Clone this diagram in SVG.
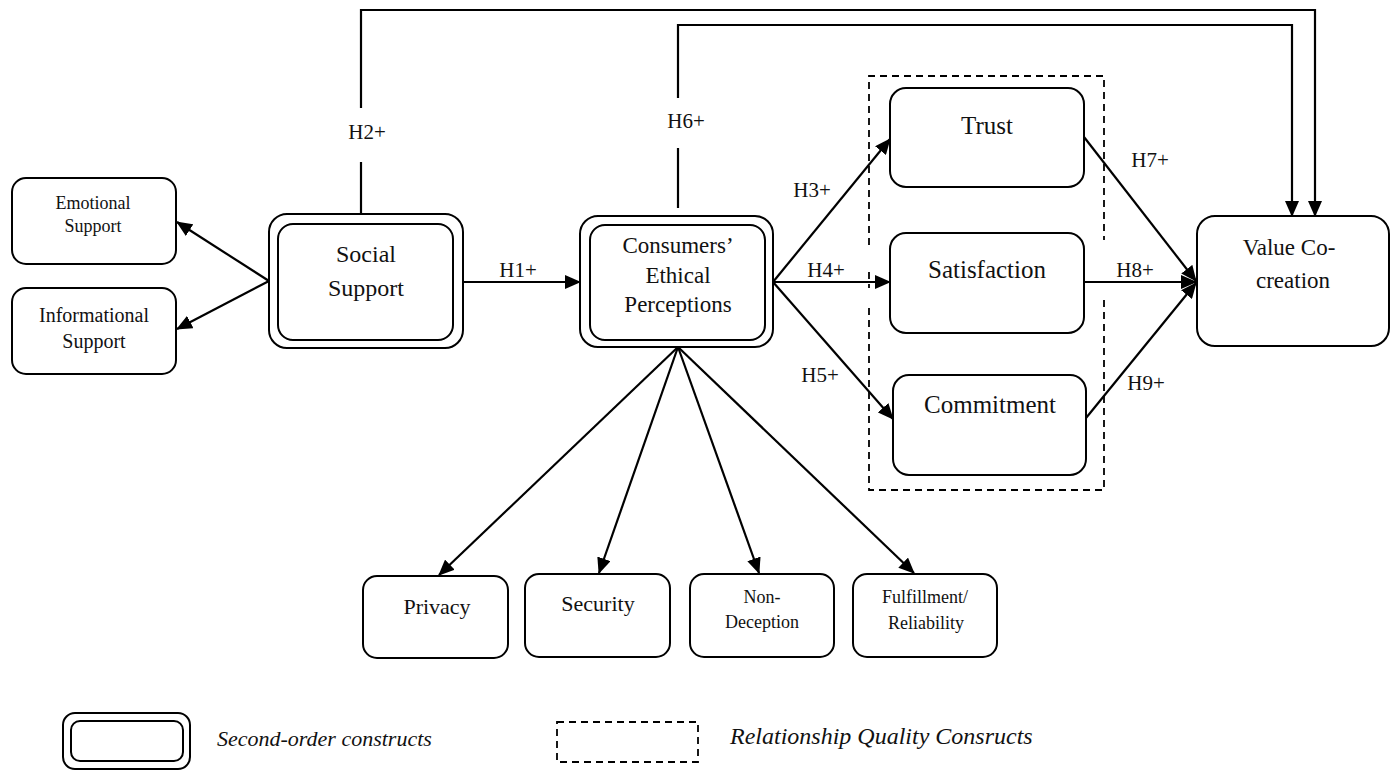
<svg xmlns="http://www.w3.org/2000/svg" width="1394" height="770" viewBox="0 0 1394 770" font-family="'Liberation Serif','Times New Roman',serif">
<defs>
<marker id="ah" markerUnits="userSpaceOnUse" markerWidth="16" markerHeight="14" refX="15" refY="7" orient="auto">
<path d="M0,0 L16,7 L0,14 Z" fill="#000"/>
</marker>
<style>
.box{fill:#fff;stroke:#000;stroke-width:2}
.dash{fill:none;stroke:#000;stroke-width:1.8;stroke-dasharray:7,5}
.ln{fill:none;stroke:#000;stroke-width:2.2}
.ar{fill:none;stroke:#000;stroke-width:2.2;marker-end:url(#ah)}
text{font-family:"Liberation Serif","Times New Roman",serif;fill:#111;text-anchor:middle}
.big{font-size:25px}
.soc{font-size:24px}
.val{font-size:23px}
.cep{font-size:23px}
.emo{font-size:18px}
.inf{font-size:20px}
.dim{font-size:22px}
.sm{font-size:18px}
.h{font-size:21px}
.leg{font-style:italic;text-anchor:start}
</style>
</defs>
<rect width="1394" height="770" fill="#fff"/>

<g id="connectors">
<path class="ln" d="M361,214 V162"/>
<path class="ar" d="M361,108 V10 H1315 V216"/>
<path class="ln" d="M678,208 V148"/>
<path class="ar" d="M678,98 V25 H1292 V216"/>
<path class="ar" d="M269,281 L177,222"/>
<path class="ar" d="M269,281 L177,329"/>
<path class="ar" d="M463,282 L580,282"/>
<path class="ar" d="M773,282 L890,139"/>
<path class="ar" d="M773,282 L890,282"/>
<path class="ar" d="M773,282 L893,419"/>
<path class="ar" d="M1084,137 L1196,281"/>
<path class="ar" d="M1084,282 L1196,282"/>
<path class="ar" d="M1086,418 L1196,283"/>
<path class="ar" d="M678,347 L439,575"/>
<path class="ar" d="M678,347 L599,573"/>
<path class="ar" d="M678,347 L759,573"/>
<path class="ar" d="M678,347 L914,573"/>
</g>

<g id="labels">
<text class="h" x="367" y="139">H2+</text>
<text class="h" x="686" y="128">H6+</text>
<text class="h" x="518" y="277">H1+</text>
<text class="h" x="812" y="197">H3+</text>
<text class="h" x="826" y="277">H4+</text>
<text class="h" x="820" y="382">H5+</text>
<text class="h" x="1150" y="167">H7+</text>
<text class="h" x="1135" y="277">H8+</text>
<text class="h" x="1146" y="390">H9+</text>
</g>

<g id="rq-group">
<path class="dash" d="M869,245 V76 H1104 V240"/>
<path class="dash" d="M869,272 V288"/>
<path class="dash" d="M869,308 V490 H1104 V300"/>
</g>

<g id="emotional">
<rect class="box" x="12" y="178" width="164" height="86" rx="14"/>
<text class="emo" x="93" y="209">Emotional</text>
<text class="emo" x="93" y="232">Support</text>
</g>
<g id="informational">
<rect class="box" x="12" y="288" width="164" height="86" rx="14"/>
<text class="inf" x="94" y="322">Informational</text>
<text class="inf" x="94" y="348">Support</text>
</g>
<g id="social">
<rect class="box" x="269" y="214" width="194" height="134" rx="18"/>
<rect class="box" x="278" y="224" width="175" height="116" rx="15"/>
<text class="soc" x="366" y="262">Social</text>
<text class="soc" x="366" y="296">Support</text>
</g>
<g id="cep">
<rect class="box" x="580" y="216" width="193" height="131" rx="18"/>
<rect class="box" x="590" y="225" width="175" height="115" rx="15"/>
<text class="cep" x="678" y="253">Consumers’</text>
<text class="cep" x="678" y="283">Ethical</text>
<text class="cep" x="678" y="312">Perceptions</text>
</g>
<g id="trust">
<rect class="box" x="890" y="88" width="194" height="99" rx="16"/>
<text class="big" x="987" y="134">Trust</text>
</g>
<g id="satisfaction">
<rect class="box" x="890" y="233" width="194" height="100" rx="16"/>
<text class="big" x="987" y="278">Satisfaction</text>
</g>
<g id="commitment">
<rect class="box" x="893" y="375" width="193" height="100" rx="16"/>
<text class="big" x="990" y="413">Commitment</text>
</g>
<g id="value">
<rect class="box" x="1197" y="216" width="192" height="130" rx="18"/>
<text class="val" x="1289" y="255">Value Co-</text>
<text class="val" x="1293" y="288">creation</text>
</g>
<g id="privacy">
<rect class="box" x="363" y="576" width="145" height="82" rx="14"/>
<text class="dim" x="437" y="614">Privacy</text>
</g>
<g id="security">
<rect class="box" x="525" y="574" width="145" height="83" rx="14"/>
<text class="dim" x="598" y="611">Security</text>
</g>
<g id="nondeception">
<rect class="box" x="690" y="574" width="144" height="83" rx="14"/>
<text class="sm" x="762" y="603">Non-</text>
<text class="sm" x="762" y="628">Deception</text>
</g>
<g id="fulfillment">
<rect class="box" x="853" y="574" width="144" height="83" rx="14"/>
<text class="sm" x="925" y="603">Fulfillment/</text>
<text class="sm" x="926" y="629">Reliability</text>
</g>

<g id="legend">
<rect class="box" x="63" y="713" width="127" height="56" rx="12"/>
<rect class="box" x="71" y="721" width="112" height="40" rx="9"/>
<text class="leg" x="217" y="746" font-size="22">Second-order constructs</text>
<rect class="dash" x="557" y="722" width="141" height="40"/>
<text class="leg" x="730" y="744" font-size="24">Relationship Quality Consructs</text>
</g>
</svg>
